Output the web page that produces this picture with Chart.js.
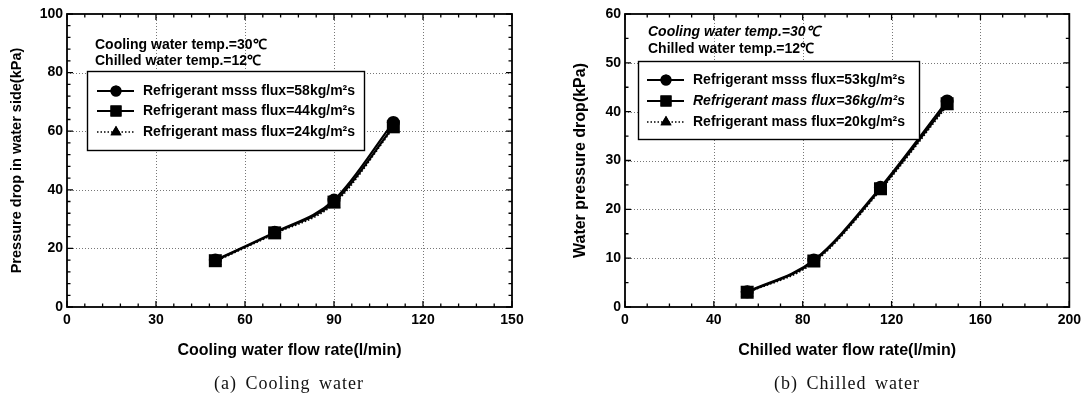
<!DOCTYPE html>
<html><head><meta charset="utf-8">
<script src="https://cdn.jsdelivr.net/npm/chart.js@4.4.0/dist/chart.umd.min.js"></script>
<style>
html,body{margin:0;padding:0;background:#fff;}
#wrap{position:relative;width:1086px;height:403px;overflow:hidden;}
.box{position:absolute;top:0;width:543px;height:403px;}
.cap{position:absolute;top:373px;font-family:"Liberation Serif","DejaVu Serif",serif;font-size:18px;letter-spacing:1px;word-spacing:3px;color:#111;white-space:nowrap;transform:translateX(-50%);}
</style></head>
<body><div id="wrap">
<div class="box" style="left:0"><canvas id="c1" width="543" height="403"></canvas></div>
<div class="box" style="left:543px"><canvas id="c2" width="543" height="403"></canvas></div>
<div class="cap" style="left:289px">(a) Cooling water</div>
<div class="cap" style="left:847px">(b) Chilled water</div>
</div>
<script>
// ---- data ----
const coolingFlow = [50, 70, 90, 110];
const coolingG58 = [16.0, 25.5, 36.5, 63.0];
const coolingG44 = [15.8, 25.3, 35.8, 61.5];
const coolingG24 = [15.5, 25.0, 35.2, 61.0];

const chilledFlow = [55, 85, 115, 145];
const chilledG53 = [3.1, 9.6, 24.5, 42.2];
const chilledG36 = [3.0, 9.4, 24.2, 41.6];
const chilledG20 = [2.9, 9.1, 23.9, 41.2];

const legendA = ['Refrigerant msss flux=58kg/m²s', 'Refrigerant mass flux=44kg/m²s', 'Refrigerant mass flux=24kg/m²s'];
const legendB = ['Refrigerant msss flux=53kg/m²s', 'Refrigerant mass flux=36kg/m²s', 'Refrigerant mass flux=20kg/m²s'];
const noteLines = ['Cooling water temp.=30℃', 'Chilled water temp.=12℃'];

const xTicksA = [0, 30, 60, 90, 120, 150];
const yTicksA = [0, 20, 40, 60, 80, 100];
const xTicksB = [0, 40, 80, 120, 160, 200];
const yTicksB = [0, 10, 20, 30, 40, 50, 60];

const titlesA = {x: 'Cooling water flow rate(l/min)', y: 'Pressure drop in water side(kPa)'};
const titlesB = {x: 'Chilled water flow rate(l/min)', y: 'Water pressure drop(kPa)'};

// ---- helpers ----
const FONT = '"Liberation Sans", Arial, sans-serif';
const styles = [
  {pointStyle: 'circle', pointRadius: 6.5, dash: []},
  {pointStyle: 'rect', pointRadius: 9.2, dash: []},
  {pointStyle: 'triangle', pointRadius: 7.5, dash: [1.5, 2]}
];

function pts(xs, ys) { return xs.map((x, i) => ({x: x, y: ys[i]})); }

function makeDatasets(xs, series, labels) {
  return series.map((ys, i) => ({
    label: labels[i],
    data: pts(xs, ys),
    showLine: true,
    borderColor: '#000',
    backgroundColor: '#000',
    borderWidth: i === 2 ? 1.6 : 2.2,
    borderDash: styles[i].dash,
    pointStyle: styles[i].pointStyle,
    pointRadius: styles[i].pointRadius,
    pointHoverRadius: styles[i].pointRadius,
    pointBorderWidth: 0,
    cubicInterpolationMode: 'monotone',
    order: 3 - i
  }));
}

function framePlugin(cfg) {
  return {
    id: 'frame',
    beforeDatasetsDraw(chart) {
      const {ctx, chartArea: a, scales: {x, y}} = chart;
      ctx.save();
      ctx.strokeStyle = '#777';
      ctx.lineWidth = 1;
      ctx.setLineDash([1, 2]);
      cfg.xTicks.forEach(v => {
        const px = Math.round(x.getPixelForValue(v)) + 0.5;
        if (px > a.left + 2 && px < a.right - 2) {
          ctx.beginPath(); ctx.moveTo(px, a.top); ctx.lineTo(px, a.bottom); ctx.stroke();
        }
      });
      cfg.yTicks.forEach(v => {
        const py = Math.round(y.getPixelForValue(v)) + 0.5;
        if (py > a.top + 2 && py < a.bottom - 2) {
          ctx.beginPath(); ctx.moveTo(a.left, py); ctx.lineTo(a.right, py); ctx.stroke();
        }
      });
      ctx.restore();
    },
    afterDraw(chart) {
      const {ctx, chartArea: a, scales: {x, y}} = chart;
      ctx.save();
      ctx.setLineDash([]);
      ctx.strokeStyle = '#000';
      // ticks inward on all sides
      ctx.lineWidth = 1.3;
      const xMin = cfg.xTicks[0], xMax = cfg.xTicks[cfg.xTicks.length - 1];
      const yMin = cfg.yTicks[0], yMax = cfg.yTicks[cfg.yTicks.length - 1];
      for (let v = xMin; v <= xMax + 1e-9; v += cfg.xMinor) {
        const major = cfg.xTicks.some(t => Math.abs(t - v) < 1e-6);
        const L = major ? 6 : 3.5;
        const px = x.getPixelForValue(v);
        ctx.beginPath(); ctx.moveTo(px, a.bottom); ctx.lineTo(px, a.bottom - L);
        ctx.moveTo(px, a.top); ctx.lineTo(px, a.top + L); ctx.stroke();
      }
      for (let v = yMin; v <= yMax + 1e-9; v += cfg.yMinor) {
        const major = cfg.yTicks.some(t => Math.abs(t - v) < 1e-6);
        const L = major ? 6 : 3.5;
        const py = y.getPixelForValue(v);
        ctx.beginPath(); ctx.moveTo(a.left, py); ctx.lineTo(a.left + L, py);
        ctx.moveTo(a.right, py); ctx.lineTo(a.right - L, py); ctx.stroke();
      }
      // frame
      ctx.lineWidth = 1.8;
      ctx.strokeRect(a.left, a.top, a.right - a.left, a.bottom - a.top);

      // notes
      ctx.fillStyle = '#000';
      ctx.textBaseline = 'middle';
      ctx.textAlign = 'left';
      cfg.notes.forEach((t, i) => {
        ctx.font = (cfg.noteItalic[i] ? 'italic ' : '') + 'bold 14px ' + FONT;
        ctx.fillText(t, cfg.noteX, cfg.noteY + i * cfg.noteDy);
      });

      // legend box
      const L = cfg.legend;
      ctx.fillStyle = '#fff';
      ctx.fillRect(L.x, L.y, L.w, L.h);
      ctx.lineWidth = 1.4;
      ctx.strokeRect(L.x + 0.5, L.y + 0.5, L.w, L.h);
      chart.data.datasets.forEach((ds, i) => {
        const cy = L.rows[i];
        ctx.save();
        ctx.strokeStyle = '#000';
        ctx.lineWidth = ds.borderWidth;
        ctx.setLineDash(ds.borderDash || []);
        ctx.beginPath(); ctx.moveTo(L.mx - 19, cy); ctx.lineTo(L.mx + 18, cy); ctx.stroke();
        ctx.restore();
        ctx.fillStyle = '#000';
        Chart.helpers.drawPoint(ctx, {pointStyle: ds.pointStyle, radius: ds.pointRadius * 0.85, borderWidth: 0}, L.mx, cy);
        ctx.fill();
        ctx.fillStyle = '#000';
        ctx.font = (L.italic[i] ? 'italic ' : '') + 'bold 14px ' + FONT;
        ctx.textBaseline = 'middle';
        ctx.fillText(ds.label, L.tx, cy);
      });
      ctx.restore();
    }
  };
}

function makeChart(id, xs, series, labels, t, xTicks, yTicks, layout, cfg) {
  const tickFont = {family: FONT, size: 14, weight: 'bold'};
  return new Chart(document.getElementById(id), {
    type: 'scatter',
    data: {datasets: makeDatasets(xs, series, labels)},
    options: {
      responsive: false,
      animation: false,
      events: [],
      layout: {padding: layout.padding},
      plugins: {legend: {display: false}, tooltip: {enabled: false}},
      scales: {
        x: {
          type: 'linear', min: xTicks[0], max: xTicks[xTicks.length - 1],
          afterBuildTicks: s => { s.ticks = xTicks.map(v => ({value: v})); },
          afterFit: s => { s.height = layout.xh; },
          grid: {display: false, drawTicks: false},
          border: {display: false},
          ticks: {color: '#000', font: tickFont, padding: 5, maxRotation: 0, autoSkip: false},
          title: {display: true, text: t.x, color: '#000', font: {family: FONT, size: layout.xtSize, weight: 'bold'}, padding: {top: 4, bottom: 4}}
        },
        y: {
          type: 'linear', min: yTicks[0], max: yTicks[yTicks.length - 1],
          afterBuildTicks: s => { s.ticks = yTicks.map(v => ({value: v})); },
          afterFit: s => { s.width = layout.yw; },
          grid: {display: false, drawTicks: false},
          border: {display: false},
          ticks: {color: '#000', font: tickFont, padding: 4, autoSkip: false},
          title: {display: true, text: t.y, color: '#000', font: {family: FONT, size: layout.ytSize, weight: 'bold'}, padding: {top: 4, bottom: 4}}
        }
      }
    },
    plugins: [framePlugin(cfg)]
  });
}

makeChart('c1', coolingFlow, [coolingG58, coolingG44, coolingG24], legendA, titlesA, xTicksA, yTicksA,
  {padding: {left: 4, right: 31, top: 14, bottom: 39}, yw: 63, xh: 57, xtSize: 16, ytSize: 14.5},
  {xTicks: xTicksA, yTicks: yTicksA, xMinor: 6, yMinor: 4, notes: noteLines, noteItalic: [false, false], noteX: 95, noteY: 45, noteDy: 16,
   legend: {x: 87, y: 71, w: 277, h: 79, rows: [91, 111, 132], mx: 116, tx: 143, italic: [false, false, false]}});

makeChart('c2', chilledFlow, [chilledG53, chilledG36, chilledG20], legendB, titlesB, xTicksB, yTicksB,
  {padding: {left: 24, right: 16, top: 14, bottom: 39}, yw: 58, xh: 57, xtSize: 16, ytSize: 16},
  {xTicks: xTicksB, yTicks: yTicksB, xMinor: 10, yMinor: 5, notes: noteLines, noteItalic: [true, false], noteX: 105, noteY: 32, noteDy: 17,
   legend: {x: 95, y: 61, w: 281, h: 78, rows: [80, 101, 122], mx: 123, tx: 150, italic: [false, true, false]}});
</script>
</body></html>
